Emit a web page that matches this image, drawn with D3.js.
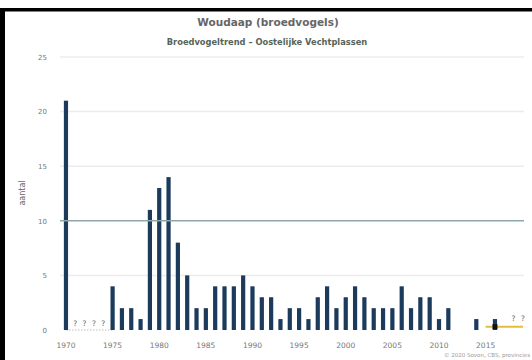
<!DOCTYPE html>
<html><head><meta charset="utf-8">
<script src="https://cdn.jsdelivr.net/npm/d3@7"></script>
<style>html,body{margin:0;padding:0;background:#fff;}svg{display:block;}</style>
</head><body>
<script>
const years = [1970,1971,1972,1973,1974,1975,1976,1977,1978,1979,
  1980,1981,1982,1983,1984,1985,1986,1987,1988,1989,
  1990,1991,1992,1993,1994,1995,1996,1997,1998,1999,
  2000,2001,2002,2003,2004,2005,2006,2007,2008,2009,
  2010,2011,2012,2013,2014,2015,2016,2017,2018,2019];
const counts = [21,null,null,null,null,4,2,2,1,11,
  13,14,8,5,2,2,4,4,4,5,
  4,3,3,1,2,2,1,3,4,2,
  3,4,3,2,2,2,4,2,3,3,
  1,2,null,null,1,null,1,null,null,null];
const unknownYears = [1971,1972,1973,1974,2018,2019];
const markerYear = [2016];
const trendYears = [2015,2019];
const trendValue = [0.3,0.3];
const yTicks = [0,5,10,15,20,25];
const xTicks = [1970,1975,1980,1985,1990,1995,2000,2005,2010,2015];
const referenceValue = 10;

const W = 532, H = 360;
const svg = d3.select("body").append("svg").attr("width", W).attr("height", H);
svg.append("rect").attr("width", W).attr("height", H).attr("fill", "#fff");
// black frame (top and left)
svg.append("rect").attr("x", 0).attr("y", 8).attr("width", W).attr("height", 3.5).attr("fill", "#000");
svg.append("rect").attr("x", 0).attr("y", 8).attr("width", 5).attr("height", H).attr("fill", "#000");

const x = d3.scaleBand().domain(years).range([61.3, 527.6]).paddingInner(0.55).paddingOuter(0.275);
const y = d3.scaleLinear().domain([0, 25]).range([330, 57]);
const cx = d => x(d) + x.bandwidth() / 2;

// gridlines
svg.append("g").selectAll("line").data(yTicks.filter(t => t > 0 && t !== referenceValue)).join("line")
  .attr("x1", 60).attr("x2", 524).attr("y1", d => y(d)).attr("y2", d => y(d))
  .attr("stroke", "#ececec").attr("stroke-width", 1.5);

// y tick labels
const yAxis = d3.axisLeft(y).tickValues(yTicks).tickSize(0).tickPadding(0);
const gy = svg.append("g").attr("transform", "translate(47,0)").call(yAxis);
gy.select(".domain").remove();
gy.selectAll("text").attr("font-family", "DejaVu Sans, sans-serif").attr("font-size", 7).attr("fill", "#777");

// x tick labels
const xAxis = d3.axisBottom(x).tickValues(xTicks).tickSize(0).tickPadding(0);
const gx = svg.append("g").attr("transform", "translate(0,343)").call(xAxis);
gx.select(".domain").remove();
gx.selectAll("text").attr("font-family", "DejaVu Sans, sans-serif").attr("font-size", 7.5).attr("fill", "#777");

// baseline dotted under unknowns
svg.append("line").attr("x1", cx(1970)).attr("x2", cx(1975)).attr("y1", y(0)).attr("y2", y(0))
  .attr("stroke", "#bbb").attr("stroke-dasharray", "1.5,1.5").attr("stroke-width", 1);

// bars
svg.append("g").selectAll("rect").data(years.map((yr, i) => ({yr, v: counts[i]})).filter(d => d.v !== null)).join("rect")
  .attr("x", d => x(d.yr)).attr("width", x.bandwidth())
  .attr("y", d => y(d.v)).attr("height", d => y(0) - y(d.v))
  .attr("fill", "#1b3a5c");

// reference line at 10
svg.append("line").attr("x1", 60).attr("x2", 524).attr("y1", y(referenceValue)).attr("y2", y(referenceValue))
  .attr("stroke", "#8fa7a7").attr("stroke-width", 1.5);

// trend line
svg.append("line").attr("x1", cx(trendYears[0])).attr("x2", cx(trendYears[1]))
  .attr("y1", y(trendValue[0])).attr("y2", y(trendValue[1]))
  .attr("stroke", "#e5bd3c").attr("stroke-width", 2);
svg.append("g").selectAll("rect").data(markerYear).join("rect")
  .attr("x", d => cx(d) - 2.5).attr("y", y(trendValue[0]) - 2.5).attr("width", 5).attr("height", 5)
  .attr("fill", "#111");

// unknown marks
svg.append("g").selectAll("text").data(unknownYears).join("text")
  .attr("x", d => cx(d)).attr("y", d => d > 2000 ? y(0.8) : y(0.4))
  .attr("text-anchor", "middle").attr("font-family", "DejaVu Sans, sans-serif")
  .attr("font-size", 7.5).attr("fill", "#666").text("?");

// titles
svg.append("text").attr("x", 268).attr("y", 26).attr("text-anchor", "middle")
  .attr("font-family", "DejaVu Sans, sans-serif").attr("font-size", 10.5).attr("font-weight", "bold")
  .attr("fill", "#666").text("Woudaap (broedvogels)");
svg.append("text").attr("x", 267).attr("y", 45).attr("text-anchor", "middle")
  .attr("font-family", "DejaVu Sans, sans-serif").attr("font-size", 8.3).attr("font-weight", "bold")
  .attr("fill", "#56645a").text("Broedvogeltrend \u2013 Oostelijke Vechtplassen");

// y axis title
svg.append("text").attr("transform", "translate(25,193) rotate(-90)").attr("text-anchor", "middle")
  .attr("font-family", "DejaVu Sans, sans-serif").attr("font-size", 8).attr("fill", "#666").text("aantal");

// credit
svg.append("text").attr("x", 530).attr("y", 357).attr("text-anchor", "end")
  .attr("font-family", "DejaVu Sans, sans-serif").attr("font-size", 5.5).attr("fill", "#999")
  .text("\u00a9 2020 Sovon, CBS, provincies");
</script>
</body></html>
